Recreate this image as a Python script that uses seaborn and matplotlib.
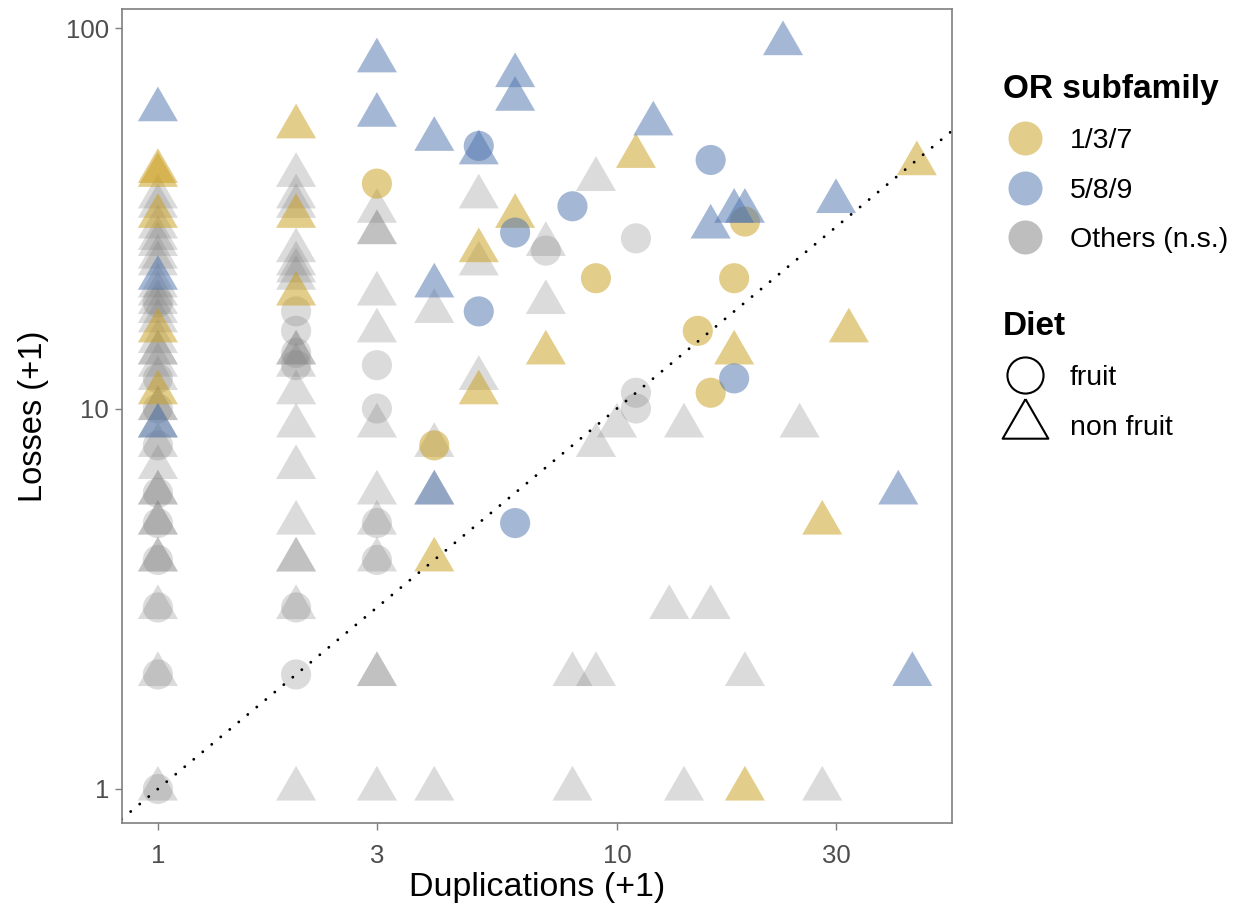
import numpy as np
import pandas as pd
import seaborn as sns
import matplotlib.pyplot as plt
from matplotlib.lines import Line2D
from matplotlib.ticker import NullLocator

# duplications (+1) / losses (+1), one pair of lists per subfamily and diet
gold_tri_dup = [1, 1, 1, 1, 1, 2, 2, 2, 4, 5, 5, 6, 7, 11, 18, 19, 28, 32, 45]
gold_tri_loss = [42, 41, 32, 16, 11, 55, 32, 20, 4, 26, 11, 32, 14, 46, 14, 1, 5, 16, 44]
gold_circ_dup = [3, 4, 9, 15, 16, 18, 19]
gold_circ_loss = [39, 8, 22, 16, 11, 22, 31]

blue_tri_dup = [1, 1, 1, 3, 3, 4, 4, 4, 5, 6, 6, 12, 16, 18, 19, 23, 30, 41, 44]
blue_tri_loss = [61, 22, 9, 82, 59, 51, 21, 6, 47, 75, 65, 56, 30, 33, 33, 91, 35, 6, 2]
blue_circ_dup = [5, 5, 6, 6, 8, 16, 18]
blue_circ_loss = [49, 18, 29, 5, 34, 45, 12]

gray_tri_dup = [1, 1, 1, 1, 1, 1, 1, 1, 1, 1, 1, 1, 1, 1, 1, 1,
                1, 1, 1, 1, 1, 1, 1, 1, 1, 1, 1, 1, 1, 1, 1,
                2, 2, 2, 2, 2, 2, 2, 2, 2, 2, 2, 2, 2, 2, 2, 2, 2, 2,
                3, 3, 3, 3, 3, 3, 3, 3, 3, 3, 3, 3,
                4, 4, 4, 4, 5, 5, 5, 7, 7, 8, 8, 9, 9, 9, 10,
                13, 14, 14, 16, 19, 25, 28]
gray_tri_loss = [1, 2, 3, 4, 4, 5, 5, 6, 6, 7, 8, 9, 10, 10, 12, 13,
                 14, 14, 15, 17, 18, 19, 20, 21, 24, 25, 27, 28, 30, 34, 36,
                 1, 3, 4, 4, 5, 7, 9, 11, 13, 14, 14, 22, 23, 24, 26, 34, 36, 41,
                 1, 2, 2, 4, 5, 6, 9, 16, 20, 29, 29, 33,
                 1, 6, 8, 18, 12, 24, 36, 19, 27, 1, 2, 2, 8, 40, 9,
                 3, 1, 9, 3, 2, 9, 1]
gray_circ_dup = [1, 1, 1, 1, 1, 1, 1, 1, 1, 1,
                 2, 2, 2, 2, 2, 2,
                 3, 3, 3, 3,
                 7, 11, 11, 11]
gray_circ_loss = [1, 2, 3, 4, 5, 6, 8, 10, 12, 19,
                  2, 3, 13, 14, 16, 18,
                  4, 5, 10, 13,
                  26, 10, 11, 28]

groups = ['1/3/7', '5/8/9', 'Others (n.s.)']
group_colors = ['#C99D19', '#4B73AD', '#7F7F7F']
palette = dict(zip(groups, group_colors))


def frame(dup, loss, group, diet):
    return pd.DataFrame({'dup': dup, 'loss': loss, 'group': group, 'diet': diet})


others = pd.concat([frame(gray_tri_dup, gray_tri_loss, groups[2], 'non fruit'),
                    frame(gray_circ_dup, gray_circ_loss, groups[2], 'fruit')])
sig = pd.concat([frame(gold_tri_dup, gold_tri_loss, groups[0], 'non fruit'),
                 frame(gold_circ_dup, gold_circ_loss, groups[0], 'fruit'),
                 frame(blue_tri_dup, blue_tri_loss, groups[1], 'non fruit'),
                 frame(blue_circ_dup, blue_circ_loss, groups[1], 'fruit')])

# closed triangle centred on its centroid, like R's pch 17
tri = np.array([[0, 1.1547], [-1, -0.57735], [1, -0.57735], [0, 1.1547]])
markers = {'fruit': 'o', 'non fruit': tri}
sizes = {'fruit': 470, 'non fruit': 1110}

sns.set_theme(style='white')
plt.rcParams['font.family'] = ['Liberation Sans', 'DejaVu Sans']
plt.rcParams['text.color'] = 'black'
plt.rcParams['axes.labelcolor'] = 'black'

fig = plt.figure(figsize=(12.35, 9.09), dpi=100)
ax = fig.add_axes([121.7 / 1235, 1 - 823 / 909, 830 / 1235, 814 / 909])

for d, a in [(others, 0.28), (sig, 0.5)]:
    sns.scatterplot(data=d, x='dup', y='loss', hue='group', palette=palette,
                    style='diet', markers=markers, size='diet', sizes=sizes,
                    alpha=a, linewidth=0, legend=False, ax=ax)

ax.axline((1, 1), (10, 10), color='black', lw=2.1, linestyle=(0, (0.01, 4.0)),
          dash_capstyle='round')

ax.set_xscale('log')
ax.set_yscale('log')
ax.set_xlim(0.834, 53.6)
ax.set_ylim(0.814, 112.2)
ax.set_xticks([1, 3, 10, 30], ['1', '3', '10', '30'])
ax.set_yticks([1, 10, 100], ['1', '10', '100'])
ax.xaxis.set_minor_locator(NullLocator())
ax.yaxis.set_minor_locator(NullLocator())
ax.tick_params(length=5, width=1, color='#7F7F7F', labelsize=18.5,
               labelcolor='#4D4D4D', bottom=True, left=True)
ax.tick_params(axis='x', pad=10)
ax.tick_params(axis='y', pad=4)
for s in ax.spines.values():
    s.set_color('#7F7F7F')
    s.set_linewidth(1.2)
ax.set_xlabel('Duplications (+1)', fontsize=24.5, labelpad=3)
ax.set_ylabel('Losses (+1)', fontsize=23.5, labelpad=12)

leg_kw = dict(loc='upper left', frameon=False, fontsize=20.5,
              title_fontproperties={'weight': 'bold', 'size': 24}, alignment='left',
              handlelength=1.55, handletextpad=0.8, labelspacing=0.82,
              borderpad=0, borderaxespad=0)

h1 = [Line2D([], [], ls='', marker='o', ms=24.5, mfc=c, mec='none', alpha=0.5)
      for c in group_colors]
fig.legend(h1, groups, title='OR subfamily',
           bbox_to_anchor=(1003 / 1235, 1 - 74 / 909), **leg_kw)

h2 = [Line2D([], [], ls='', marker='o', ms=26, mfc='none', mec='black', mew=1.5),
      Line2D([], [], ls='', marker=tri, ms=38, mfc='none', mec='black', mew=1.5)]
fig.legend(h2, ['fruit', 'non fruit'], title='Diet',
           bbox_to_anchor=(1003 / 1235, 1 - 311 / 909), **leg_kw)

fig.savefig('out.png', dpi=100)
